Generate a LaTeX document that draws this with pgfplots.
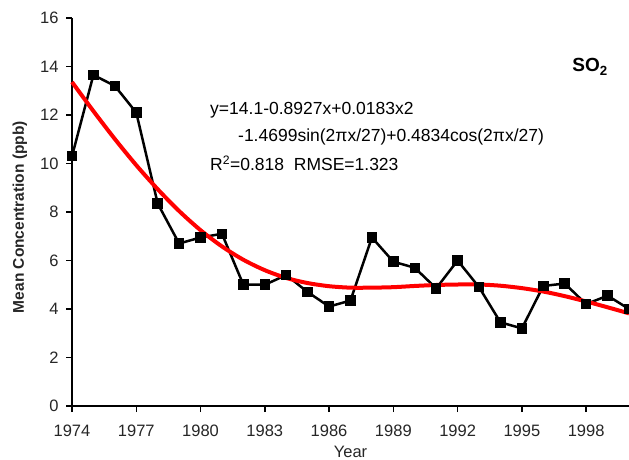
\documentclass[border=0pt]{standalone}
\usepackage{pgfplots}
\pgfplotsset{compat=1.18}
\usepackage{fontspec}
\setmainfont{Liberation Sans}
\begin{document}
\begin{tikzpicture}
\begin{axis}[
  at={(0,0)}, anchor=south west,
  scale only axis, width=557pt, height=388pt,
  xmin=1974, xmax=2000, ymin=0, ymax=16,
  axis x line=bottom, axis y line=left,
  axis line style={-, line width=1.6pt},
  xtick={1974,1977,...,1998}, ytick={0,2,...,16},
  minor tick num=0,
  tick align=outside, major tick length=6pt,
  tick style={line width=1.4pt, black},
  /pgf/number format/assume math mode=true,
  /pgf/number format/1000 sep={},
  ticklabel style={font=\fontsize{16.5}{18}\selectfont, text=black!85},
  xticklabel style={yshift=-9pt},
  yticklabel style={xshift=-4pt},
  xlabel={Year},
  xlabel style={at={(axis description cs:0.5,-0.1186)}, anchor=center, font=\fontsize{16.5}{18}\selectfont, text=black!85},
  ylabel={Mean Concentration (ppb)},
  ylabel style={at={(axis description cs:-0.0934,0.487)}, anchor=center, font=\bfseries\fontsize{15.5}{18}\selectfont, text=black!85},
  clip=false,
]
\addplot[black, line width=2.5pt, mark=square*, mark size=4pt, mark options={solid}] coordinates {
(1974,10.3) (1975,13.65) (1976,13.2) (1977,12.1) (1978,8.35) (1979,6.7)
(1980,6.95) (1981,7.1) (1982,5.0) (1983,5.0) (1984,5.4) (1985,4.7)
(1986,4.1) (1987,4.35) (1988,6.95) (1989,5.95) (1990,5.7) (1991,4.85)
(1992,6.0) (1993,4.9) (1994,3.45) (1995,3.2) (1996,4.95) (1997,5.05)
(1998,4.2) (1999,4.55) (2000,4.0)
};
\addplot[red, line width=4pt, smooth, mark=none] coordinates {
(1974,13.36) (1975,12.16) (1976,11.01) (1977,9.93) (1978,8.94) (1979,8.04)
(1980,7.25) (1981,6.58) (1982,6.03) (1983,5.60) (1984,5.28) (1985,5.07)
(1986,4.94) (1987,4.88) (1988,4.88) (1989,4.90) (1990,4.95) (1991,4.99)
(1992,5.01) (1993,5.01) (1994,4.96) (1995,4.86) (1996,4.72) (1997,4.53)
(1998,4.31) (1999,4.07) (2000,3.82)
};
\node[anchor=west, inner sep=0pt, font=\fontsize{17.5}{20}\selectfont] at (rel axis cs:0.2478,0.763) {y=14.1-0.8927x+0.0183x2};
\node[anchor=west, inner sep=0pt, font=\fontsize{17.5}{20}\selectfont] at (rel axis cs:0.298,0.694) {-1.4699sin(2πx/27)+0.4834cos(2πx/27)};
\node[anchor=west, inner sep=0pt, font=\fontsize{17.5}{20}\selectfont] at (rel axis cs:0.2478,0.626) {R\textsuperscript{2}=0.818\ \ RMSE=1.323};
\node[anchor=west, inner sep=0pt, font=\bfseries\fontsize{19}{22}\selectfont] at (rel axis cs:0.898,0.874) {SO\textsubscript{2}};
\end{axis}
\pgfresetboundingbox
\useasboundingbox (-72pt,-54pt) rectangle (557pt,406pt);
\end{tikzpicture}
\end{document}
